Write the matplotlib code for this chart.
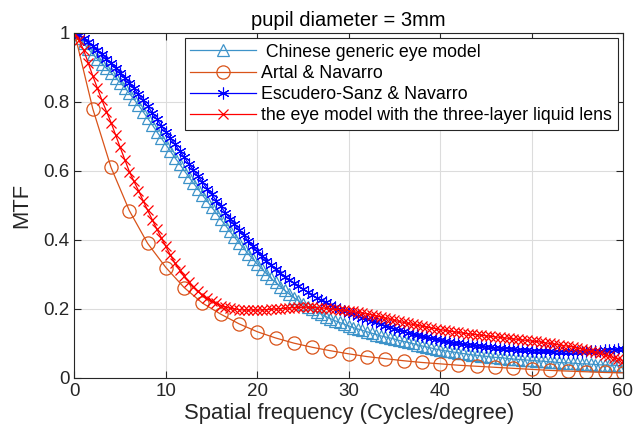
import numpy as np
import matplotlib
matplotlib.use("Agg")
import matplotlib.pyplot as plt

plt.rcParams['font.family'] = ['Liberation Sans', 'DejaVu Sans']

# spatial frequency sampling (cycles/degree)
freq = np.arange(0, 60.5, 0.5)
freq_artal = np.arange(0, 61, 2)

chinese = [
    1.000, 0.985, 0.970, 0.954, 0.938, 0.924, 0.910, 0.897, 0.884, 0.870,
    0.856, 0.841, 0.825, 0.808, 0.790, 0.772, 0.753, 0.734, 0.714, 0.695,
    0.676, 0.657, 0.638, 0.620, 0.601, 0.583, 0.565, 0.548, 0.530, 0.513,
    0.495, 0.478, 0.460, 0.443, 0.425, 0.408, 0.392, 0.376, 0.360, 0.345,
    0.330, 0.316, 0.302, 0.289, 0.277, 0.265, 0.254, 0.243, 0.233, 0.224,
    0.215, 0.207, 0.199, 0.192, 0.185, 0.178, 0.172, 0.166, 0.161, 0.156,
    0.151, 0.146, 0.142, 0.138, 0.134, 0.130, 0.126, 0.122, 0.119, 0.116,
    0.113, 0.109, 0.106, 0.103, 0.100, 0.096, 0.093, 0.090, 0.087, 0.084,
    0.081, 0.079, 0.077, 0.075, 0.073, 0.071, 0.069, 0.067, 0.066, 0.064,
    0.063, 0.061, 0.060, 0.059, 0.058, 0.056, 0.055, 0.054, 0.053, 0.052,
    0.051, 0.050, 0.049, 0.048, 0.047, 0.046, 0.045, 0.044, 0.044, 0.043,
    0.042, 0.041, 0.041, 0.040, 0.039, 0.038, 0.038, 0.037, 0.037, 0.036, 0.035,
]

artal = [
    1.000, 0.780, 0.610, 0.485, 0.390, 0.320, 0.262, 0.217, 0.185, 0.157,
    0.134, 0.116, 0.101, 0.089, 0.079, 0.070, 0.062, 0.056, 0.050, 0.045,
    0.041, 0.037, 0.034, 0.031, 0.028, 0.025, 0.022, 0.020, 0.018, 0.016, 0.015,
]

escudero = [
    1.000, 0.993, 0.985, 0.974, 0.962, 0.950, 0.938, 0.925, 0.912, 0.899,
    0.885, 0.870, 0.855, 0.839, 0.822, 0.805, 0.787, 0.769, 0.750, 0.731,
    0.713, 0.695, 0.677, 0.658, 0.640, 0.621, 0.603, 0.585, 0.567, 0.549,
    0.532, 0.514, 0.497, 0.479, 0.462, 0.445, 0.429, 0.413, 0.397, 0.382,
    0.367, 0.353, 0.340, 0.327, 0.315, 0.304, 0.294, 0.285, 0.276, 0.267,
    0.258, 0.249, 0.241, 0.233, 0.226, 0.219, 0.212, 0.206, 0.200, 0.194,
    0.189, 0.184, 0.179, 0.174, 0.170, 0.165, 0.161, 0.156, 0.152, 0.147,
    0.143, 0.139, 0.135, 0.131, 0.128, 0.124, 0.121, 0.118, 0.115, 0.112,
    0.109, 0.106, 0.104, 0.102, 0.100, 0.098, 0.097, 0.095, 0.094, 0.092,
    0.091, 0.089, 0.088, 0.086, 0.085, 0.084, 0.083, 0.082, 0.081, 0.080,
    0.079, 0.078, 0.078, 0.077, 0.077, 0.076, 0.076, 0.076, 0.076, 0.076,
    0.076, 0.076, 0.077, 0.077, 0.078, 0.079, 0.080, 0.081, 0.082, 0.083, 0.084,
]

liquid = [
    1.000, 0.978, 0.950, 0.913, 0.875, 0.840, 0.805, 0.772, 0.740, 0.704,
    0.668, 0.633, 0.598, 0.570, 0.543, 0.514, 0.486, 0.459, 0.432, 0.406,
    0.381, 0.356, 0.332, 0.313, 0.295, 0.279, 0.264, 0.251, 0.240, 0.231,
    0.223, 0.216, 0.210, 0.206, 0.202, 0.200, 0.198, 0.197, 0.197, 0.197,
    0.197, 0.197, 0.198, 0.199, 0.200, 0.201, 0.202, 0.203, 0.204, 0.205,
    0.205, 0.205, 0.205, 0.204, 0.203, 0.202, 0.200, 0.199, 0.198, 0.197,
    0.195, 0.193, 0.190, 0.188, 0.185, 0.183, 0.180, 0.177, 0.173, 0.170,
    0.167, 0.164, 0.161, 0.158, 0.155, 0.153, 0.150, 0.148, 0.145, 0.143,
    0.140, 0.138, 0.136, 0.134, 0.132, 0.130, 0.128, 0.127, 0.125, 0.124,
    0.122, 0.121, 0.119, 0.118, 0.116, 0.115, 0.113, 0.112, 0.110, 0.109,
    0.107, 0.106, 0.104, 0.102, 0.100, 0.098, 0.096, 0.094, 0.092, 0.090,
    0.087, 0.084, 0.081, 0.078, 0.074, 0.071, 0.067, 0.063, 0.059, 0.055, 0.050,
]

labels = [' Chinese generic eye model', 'Artal & Navarro',
          'Escudero-Sanz & Navarro', 'the eye model with the three-layer liquid lens']

fig = plt.figure(figsize=(6.34, 4.38), dpi=100)
ax = fig.add_axes([0.1175, 0.137, 0.865, 0.788])

ax.plot(freq, chinese, color='#3d93c9', lw=0.9, marker='^', ms=9,
        mfc='none', mew=0.9, label=labels[0])
ax.plot(freq_artal, artal, color='#d95319', lw=0.9, marker='o', ms=9.5,
        mfc='none', mew=0.9, label=labels[1])
ax.plot(freq, escudero, color='#0000ff', lw=0.9, marker=(6, 2, 0), ms=8.5,
        mew=0.8, label=labels[2])
ax.plot(freq, liquid, color='#ff0000', lw=0.9, marker='x', ms=7,
        mew=0.9, label=labels[3])

ax.set_xlim(0, 60)
ax.set_ylim(0, 1)
ax.set_xticks(range(0, 61, 10))
ax.set_yticks([0, 0.2, 0.4, 0.6, 0.8, 1])
ax.set_yticklabels(['0', '0.2', '0.4', '0.6', '0.8', '1'])
ax.grid(True, color='#dcdcdc', lw=0.8)
ax.set_axisbelow(True)
ax.tick_params(direction='in', top=True, right=True, labelsize=13.5,
               colors='#262626', length=5, width=0.8)
for s in ax.spines.values():
    s.set_color('#262626')
    s.set_linewidth(0.8)

ax.set_xlabel('Spatial frequency (Cycles/degree)', fontsize=15.8, color='#262626', labelpad=2)
ax.set_ylabel('MTF', fontsize=15.8, color='#262626', labelpad=8)
ax.set_title('pupil diameter = 3mm', fontsize=14.5, color='black', pad=5)

leg = ax.legend(loc='upper right', fontsize=12.8, handlelength=3.7, fancybox=False,
                framealpha=1, edgecolor='#262626', borderaxespad=0.3,
                labelspacing=0.24, borderpad=0.3, handletextpad=0.3)
leg.get_frame().set_linewidth(0.8)

fig.savefig('out.png', dpi=100)
